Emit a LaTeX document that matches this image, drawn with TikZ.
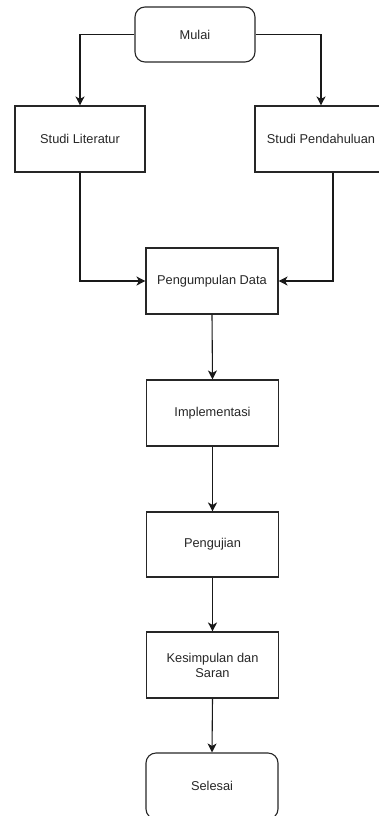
\documentclass[tikz,border=0pt]{standalone}
\usepackage{fontspec}
\setmainfont{Liberation Sans}
\usetikzlibrary{arrows.meta}
\begin{document}
\begin{tikzpicture}[x=1pt,y=-1pt,
  box/.style={draw=black!85, line width=1.1pt, minimum width=132pt, minimum height=66pt, inner sep=2pt, font=\fontsize{12.8}{15}\selectfont, text=black!85, align=center},
  term/.style={box, rounded corners=10pt},
  conn/.style={draw=black!90, line width=1.1pt, -{Stealth[length=9pt,width=9pt,inset=2.5pt]}}]
\useasboundingbox (0,0) rectangle (378,816);
\node[term, minimum width=120pt, minimum height=55pt] (mulai) at (195,34.5) {Mulai};
\node[box, minimum width=130pt] (sl) at (80,139) {Studi Literatur};
\node[box] (sp) at (321,139) {Studi Pendahuluan};
\node[box] (pd) at (212,281) {Pengumpulan Data};
\node[box] (imp) at (212.5,413) {Implementasi};
\node[box, minimum height=65pt] (uji) at (212.5,544.5) {Pengujian};
\node[box] (kes) at (212.5,665) {Kesimpulan dan\\Saran};
\node[term] (sel) at (212,786) {Selesai};
\draw[conn] (mulai.west) -| (sl.north);
\draw[conn] (mulai.east) -| (sp.north);
\draw[conn] (sl.south) |- (pd.west);
\draw[conn] ([xshift=12pt]sp.south) |- (pd.east);
\draw[conn] (pd.south) -- (imp.north);
\draw[conn] (imp.south) -- (uji.north);
\draw[conn] (uji.south) -- (kes.north);
\draw[conn] (kes.south) -- (sel.north);
\end{tikzpicture}
\end{document}
